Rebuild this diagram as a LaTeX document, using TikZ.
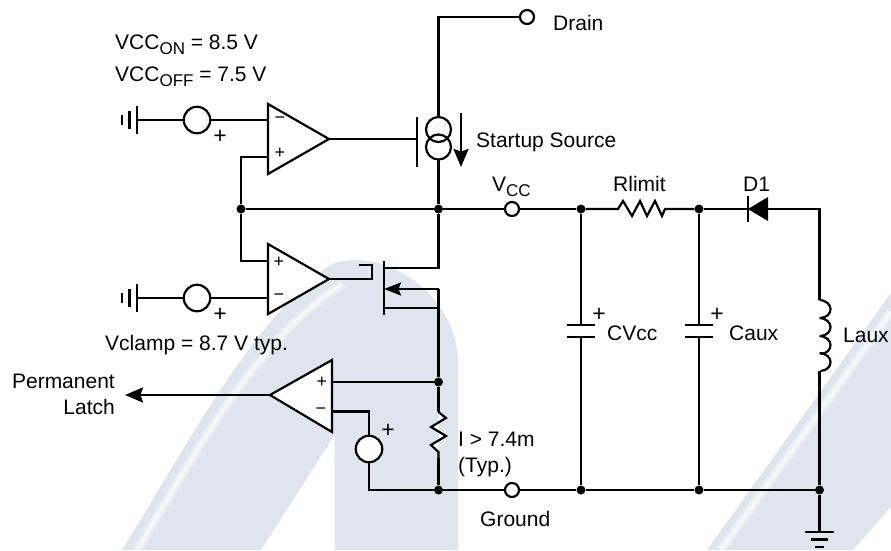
\documentclass[tikz,border=0pt]{standalone}
\usepackage{fontspec}
\setmainfont{Liberation Sans}
\usetikzlibrary{arrows.meta}
\definecolor{wm}{HTML}{E0E4EE}
\tikzset{
  wire/.style={line width=2.2pt,line cap=butt,line join=miter},
  amp/.style={wire,fill=white},
  term/.style={circle,draw,line width=2.2pt,fill=white,minimum size=14pt,inner sep=0pt},
  src/.style={circle,draw,line width=2.2pt,fill=white,minimum size=26.5pt,inner sep=0pt},
  dot/.style={circle,fill=black,minimum size=9pt,inner sep=0pt},
  lab/.style={anchor=base west,inner sep=0pt,font=\fontsize{21}{25}\selectfont},
  labr/.style={anchor=base east,inner sep=0pt,font=\fontsize{21}{25}\selectfont},
  sign/.style={inner sep=0pt,font=\fontsize{18}{20}\selectfont},
  bigsign/.style={inner sep=0pt,font=\fontsize{23}{25}\selectfont},
  tip/.style={-{Stealth[length=18pt,width=15pt,inset=2.5pt]}},
  stripe/.style={white,line width=#1,opacity=.35},
}
\newcommand{\subtxt}[1]{\raisebox{-5pt}{\fontsize{17}{20}\selectfont #1}}
\begin{document}
\begin{tikzpicture}[x=1pt,y=-1pt]
\useasboundingbox (0,0) rectangle (891,550);
% watermark
\fill[wm] (122,550) .. controls (190,440) and (250,325) .. (327,267)
  .. controls (340,260) and (350,260) .. (360,260)
  .. controls (400,262) and (458,300) .. (458,365)
  -- (458,550) -- (334.5,550) -- (334.5,435) -- (261,550) -- cycle;
\fill[wm] (707,550) -- (891,293) -- (891,507) -- (853,550) -- cycle;
\foreach \w in {9pt,5pt,2.5pt}{
  \draw[stripe=\w] (137,550) .. controls (200,445) and (260,335) .. (343,284);
  \draw[stripe=\w] (721,550) -- (891,312);
}

% named points
\coordinate (g1) at (137,120);
\coordinate (g2) at (137,298);
\node[src] (s1) at (197,120) {};
\node[src] (s2) at (197,298) {};
\node[src] (s3) at (369,449) {};
\node[dot] (jA) at (241,209) {};
\node[dot] (jB) at (438.5,209) {};
\node[term] (vcc) at (512,209) {};
\node[dot] (jC) at (581,209) {};
\node[dot] (jD) at (699,209) {};
\node[term] (drain) at (527,17) {};
\node[term] (gnd) at (512,490) {};
\node[dot] (jE) at (438.5,382) {};
\node[dot] (jF) at (438.5,490) {};
\node[dot] (jG) at (581,490) {};
\node[dot] (jH) at (699,490) {};
\node[dot] (jI) at (819.5,490) {};

% wires: top
\coordinate (dc) at (438.5,17);
\coordinate (cs1) at (438.5,117);
\coordinate (cs2) at (438.5,160);
\draw[wire] (drain) -- (dc) -- (cs1);
\draw[wire] (cs2) -- (jB);
% comparator 1
\coordinate (a1a) at (268,104); \coordinate (a1b) at (268,174); \coordinate (a1o) at (329,139);
\coordinate (a1m) at (268,120); \coordinate (a1p) at (268,157);
\coordinate (gate) at (417,139);
\draw[wire] (g1) -- (s1); \draw[wire] (s1) -- (a1m);
\draw[wire] (jA) -- (241,157) -- (a1p);
\draw[wire] (a1o) -- (gate);
\draw[amp] (a1a) -- (a1o) -- (a1b) -- cycle;
\draw[wire] (417,117) -- (417,167);
\draw[wire] (438.5,129.5) circle[radius=12.5pt];
\draw[wire] (438.5,147) circle[radius=12.5pt];
\draw[wire,tip] (461,113) -- (461,167);
% comparator 2
\coordinate (a2a) at (268,244); \coordinate (a2b) at (268,314); \coordinate (a2o) at (329,279);
\coordinate (a2p) at (268,261); \coordinate (a2m) at (268,298);
\draw[wire] (jA) -- (241,261) -- (a2p);
\draw[wire] (g2) -- (s2); \draw[wire] (s2) -- (a2m);
\draw[wire] (a2o) -- (372,279) -- (372,265) -- (359,265);
\draw[amp] (a2a) -- (a2o) -- (a2b) -- cycle;
% MOSFET
\draw[wire] (384,261) -- (384,315);
\draw[wire] (384,268) -- (438.5,268) -- (jB);
\draw[wire] (384,308) -- (438.5,308);
\coordinate (msrc) at (438.5,289);
\draw[wire,-{Stealth[length=17pt,width=13pt,inset=2.5pt]}] (msrc) -- (384,289);
\draw[wire] (msrc) -- (jE);
% bus
\draw[wire] (jA) -- (jB) -- (vcc);
\draw[wire] (vcc) -- (jC);
\draw[wire] (jC) -- (618,209) -- (623,201) -- (632,216) -- (640,201) -- (647,216) -- (655,201) -- (662,216) -- (665,209) -- (jD);
\coordinate (dk) at (748,209); \coordinate (da) at (768,209);
\draw[wire] (jD) -- (dk);
\fill (dk) -- (768,197) -- (768,221) -- cycle;
\draw[wire] (748,196) -- (748,222);
\coordinate (dr) at (819.5,209);
\draw[wire] (da) -- (dr) -- (819.5,300);
% inductor
\foreach \y in {300,318,336,353}
  \draw[wire] (819.5,\y) .. controls (834,\y+1) and (834,\y+17) .. (820.5,\y+18);
\draw[wire] (819.5,371) -- (jI);
% caps
\draw[wire] (jC) -- (581,325); \draw[wire] (581,337) -- (jG);
\draw[wire] (567,325) -- (595,325); \draw[wire] (567,337) -- (595,337);
\draw[wire] (jD) -- (699,325); \draw[wire] (699,337) -- (jH);
\draw[wire] (685,325) -- (713,325); \draw[wire] (685,337) -- (713,337);
% bottom bus
\draw[wire] (369,464) -- (369,490) -- (jF);
\draw[wire] (jF) -- (gnd); \draw[wire] (gnd) -- (jG) -- (jH) -- (jI);
% ground
\coordinate (earth) at (819.5,532);
\draw[wire] (jI) -- (earth);
\draw[wire] (805,532) -- (834,532);
\draw[wire] (811,539.5) -- (828,539.5);
\draw[wire] (815,547) -- (824,547);
% left grounds
\foreach \yy in {120,298}{
  \draw[wire] (137,\yy-14) -- (137,\yy+14);
  \draw[wire] (129.5,\yy-9) -- (129.5,\yy+9);
  \draw[wire] (122,\yy-5) -- (122,\yy+5);
}
% comparator 3
\coordinate (a3a) at (332,360); \coordinate (a3b) at (332,432); \coordinate (a3o) at (270,395);
\coordinate (a3p) at (332,382); \coordinate (a3m) at (332,411.5);
\coordinate (lat) at (125,395);
\draw[wire,tip] (a3o) -- (lat);
\draw[amp] (a3a) -- (a3o) -- (a3b) -- cycle;
\draw[wire] (a3p) -- (jE);
\draw[wire] (a3m) -- (369,411.5) -- (s3);
\draw[wire] (s3) -- (369,490);
% sense resistor
\draw[wire] (jE) -- (438.5,412);
\draw[wire,fill=white] (438.5,412) -- (446,418) -- (431,427) -- (446,436) -- (431,445) -- (438.5,452) -- (438.5,458);
\draw[wire] (438.5,458) -- (jF);

% signs
\node[sign] (p1) at (280,153) {+};
\node[sign] (m1) at (280,120) {−};
\node[sign] (p2) at (279,262) {+};
\node[sign] (m2) at (279,297) {−};
\node[sign] (p3) at (322,382) {+};
\node[sign] (m3) at (321,411) {−};
\node[bigsign] (ps1) at (220,137) {+};
\node[bigsign] (ps2) at (220,315) {+};
\node[bigsign] (ps3) at (388,431) {+};
\node[bigsign] (pc1) at (599,315) {+};
\node[bigsign] (pc2) at (717,315) {+};

% labels
\node[lab] (t1) at (115,49) {VCC\subtxt{ON} = 8.5 V};
\node[lab] (t2) at (115,81) {VCC\subtxt{OFF} = 7.5 V};
\node[lab] (t3) at (105,350) {Vclamp = 8.7 V typ.};
\node[lab] (t4) at (553,30) {Drain};
\node[lab] (t5) at (476,147) {Startup Source};
\node[lab] (t6) at (492,191) {V\subtxt{CC}};
\node[lab] (t7) at (613,191) {Rlimit};
\node[lab] (t8) at (743,191) {D1};
\node[lab] (t9) at (607,340) {CVcc};
\node[lab] (t10) at (729,340) {Caux};
\node[lab] (t11) at (843,342) {Laux};
\node[labr] (t12) at (115,388) {Permanent};
\node[labr] (t13) at (115,414) {Latch};
\node[lab] (t14) at (458,446) {I > 7.4m};
\node[lab] (t15) at (458,472) {(Typ.)};
\node[lab] (t16) at (480,526) {Ground};
\end{tikzpicture}
\end{document}
